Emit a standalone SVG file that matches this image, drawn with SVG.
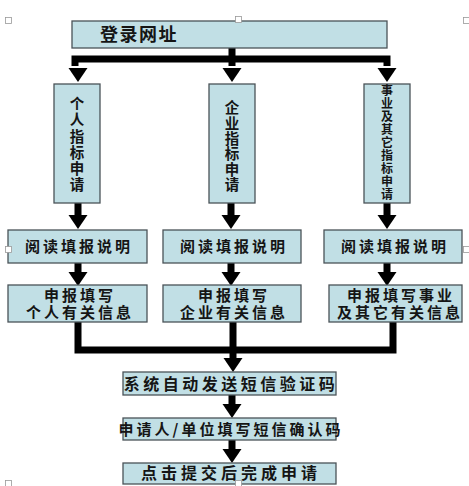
<svg xmlns="http://www.w3.org/2000/svg" width="469" height="486" viewBox="0 0 469 486">
<style>
.box{fill:#c1dfe5;stroke:#4a5358;stroke-width:1.3}
.t{font-family:"Noto Sans CJK SC","Noto Sans CJK TC",sans-serif;font-weight:bold;fill:#151515;text-anchor:middle}
.h{fill:#fff;stroke:#999;stroke-width:0.8}
.ln{stroke:#000;stroke-width:7;fill:none}
</style>
<defs>
<polygon id="ah" points="-9.5,0 9.5,0 0,14" fill="#000"/>
</defs>
<rect width="469" height="486" fill="#fff"/>
<g id="connectors">
<path class="ln" d="M232,48 V59 M75,59 H390 M75,55.5 V66 M232,59 V66 M387,55.5 V66"/>
<use href="#ah" x="78" y="68"/>
<use href="#ah" x="232" y="68"/>
<use href="#ah" x="387" y="68"/>
<path class="ln" d="M78,203 V216 M231,203 V216 M387,203 V216"/>
<use href="#ah" x="78" y="215"/>
<use href="#ah" x="231" y="215"/>
<use href="#ah" x="387" y="215"/>
<path class="ln" d="M78,263 V273 M231,263 V273 M387,263 V273"/>
<use href="#ah" x="78" y="272"/>
<use href="#ah" x="231" y="272"/>
<use href="#ah" x="387" y="272"/>
<path class="ln" d="M78,322 V350 M233,322 V359 M393,322 V350 M74.5,350 H396.5"/>
<use href="#ah" x="233" y="358"/>
<path class="ln" d="M232,395 V405"/>
<use href="#ah" x="232" y="404"/>
<path class="ln" d="M232,440 V450"/>
<use href="#ah" x="232" y="449"/>
</g>
<g id="n-login">
<rect class="box" x="72" y="21" width="315" height="27"/>
<text class="t" x="100" y="41" font-size="18" letter-spacing="1.5" style="text-anchor:start">登录网址</text>
</g>
<g id="n-personal">
<rect class="box" x="54" y="84" width="46" height="119"/>
<text class="t" font-size="14.5"><tspan x="77" y="109">个</tspan><tspan x="77" y="125">人</tspan><tspan x="77" y="142">指</tspan><tspan x="77" y="158">标</tspan><tspan x="77" y="174">申</tspan><tspan x="77" y="190">请</tspan></text>
</g>
<g id="n-enterprise">
<rect class="box" x="209" y="84" width="46" height="119"/>
<text class="t" font-size="14.5"><tspan x="232" y="113">企</tspan><tspan x="232" y="128.5">业</tspan><tspan x="232" y="144">指</tspan><tspan x="232" y="159">标</tspan><tspan x="232" y="174.5">申</tspan><tspan x="232" y="190">请</tspan></text>
</g>
<g id="n-institution">
<rect class="box" x="364" y="84" width="46" height="119"/>
<text class="t" font-size="12"><tspan x="387" y="95">事</tspan><tspan x="387" y="108">业</tspan><tspan x="387" y="121">及</tspan><tspan x="387" y="134">其</tspan><tspan x="387" y="147">它</tspan><tspan x="387" y="160">指</tspan><tspan x="387" y="173">标</tspan><tspan x="387" y="186">申</tspan><tspan x="387" y="199">请</tspan></text>
</g>
<g id="n-read1">
<rect class="box" x="8" y="230" width="139" height="33"/>
<text class="t" x="79" y="252" font-size="15" letter-spacing="3">阅读填报说明</text>
</g>
<g id="n-read2">
<rect class="box" x="163" y="230" width="138" height="33"/>
<text class="t" x="234" y="252" font-size="15" letter-spacing="3">阅读填报说明</text>
</g>
<g id="n-read3">
<rect class="box" x="324" y="230" width="138" height="33"/>
<text class="t" x="395" y="252" font-size="15" letter-spacing="3">阅读填报说明</text>
</g>
<g id="n-fill1">
<rect class="box" x="8" y="285" width="139" height="37"/>
<text class="t" font-size="15" letter-spacing="3"><tspan x="80" y="301">申报填写</tspan><tspan x="80" y="318">个人有关信息</tspan></text>
</g>
<g id="n-fill2">
<rect class="box" x="163" y="285" width="138" height="37"/>
<text class="t" font-size="15" letter-spacing="3"><tspan x="234" y="301">申报填写</tspan><tspan x="234" y="318">企业有关信息</tspan></text>
</g>
<g id="n-fill3">
<rect class="box" x="329" y="285" width="133" height="37"/>
<text class="t" font-size="15" letter-spacing="3"><tspan x="401" y="301">申报填写事业</tspan><tspan x="400" y="318">及其它有关信息</tspan></text>
</g>
<g id="n-sms">
<rect class="box" x="123" y="372" width="213" height="23"/>
<text class="t" x="231" y="390" font-size="16" letter-spacing="3.5">系统自动发送短信验证码</text>
</g>
<g id="n-confirm">
<rect class="box" x="123" y="418" width="213" height="22"/>
<text class="t" x="231" y="435" font-size="15" letter-spacing="3">申请人/单位填写短信确认码</text>
</g>
<g id="n-submit">
<rect class="box" x="123" y="463" width="213" height="21"/>
<text class="t" x="231" y="479" font-size="16" letter-spacing="4">点击提交后完成申请</text>
</g>
<g id="handles">
<rect class="h" x="5.5" y="17.5" width="6" height="6"/>
<rect class="h" x="235.5" y="16.5" width="6" height="6"/>
<rect class="h" x="463.5" y="17.5" width="6" height="6"/>
<rect class="h" x="5.5" y="246.5" width="6" height="6"/>
<rect class="h" x="463.5" y="246.5" width="6" height="6"/>
<rect class="h" x="5.5" y="480.5" width="6" height="6"/>
<rect class="h" x="235.5" y="480.5" width="6" height="6"/>
</g>
</svg>
